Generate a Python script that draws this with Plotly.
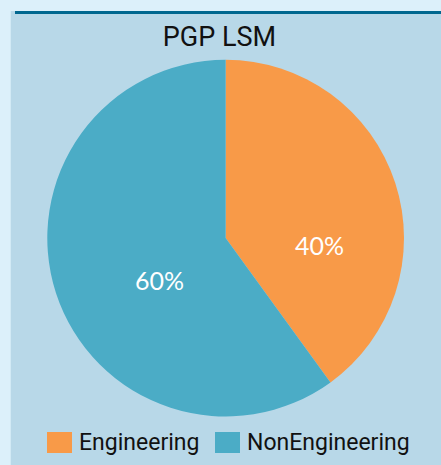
import plotly.graph_objects as go

categories = ["Engineering", "NonEngineering"]
values = [40, 60]
colors = ["#F89A48", "#4BACC6"]
title_text = "PGP LSM"

W, H = 441, 465
ML, MT = 15, 11
PW, PH = W - ML, H - MT

def px_x(x):
    return (x - ML) / PW

def px_y(y):
    return 1 - (y - MT) / PH

fig = go.Figure(go.Pie(
    labels=categories,
    values=values,
    marker=dict(colors=colors, line=dict(width=0)),
    sort=False,
    direction="clockwise",
    rotation=0,
    textinfo="none",
    domain=dict(x=[px_x(47.3), px_x(404)], y=[px_y(416.7), px_y(59.5)]),
    hoverinfo="skip",
    showlegend=False,
))

# percentage labels (text derived from the data)
total = sum(values)
label_pos = [(319, 245), (159, 280)]
annotations = []
for v, (lx, ly) in zip(values, label_pos):
    annotations.append(dict(
        text=f"{round(100 * v / total)}%", xref="paper", yref="paper",
        x=px_x(lx), y=px_y(ly), xanchor="center", yanchor="middle",
        showarrow=False,
        font=dict(family="Lato", size=25, color="white", weight=400),
    ))

# legend: swatch + label per category
legend_swatch_x = [47, 215]
shapes = [
    dict(type="rect", xref="paper", yref="paper", x0=-0.01, x1=1.01, y0=-0.01, y1=1,
         fillcolor="#B8D8E8", line=dict(width=0), layer="below"),
    dict(type="line", xref="paper", yref="paper", x0=0, x1=1.01,
         y0=1 - 1.5 / PH, y1=1 - 1.5 / PH,
         line=dict(color="#00678F", width=3), layer="below"),
]
for cat, col, sx in zip(categories, colors, legend_swatch_x):
    shapes.append(dict(type="rect", xref="paper", yref="paper",
                       x0=px_x(sx), x1=px_x(sx + 25), y0=px_y(453), y1=px_y(432),
                       fillcolor=col, line=dict(width=0)))
    annotations.append(dict(
        text=cat, xref="paper", yref="paper", x=px_x(sx + 30), y=px_y(442),
        xanchor="left", yanchor="middle", showarrow=False,
        font=dict(family="Roboto", size=23, color="#111111"),
    ))

fig.update_layout(
    width=W, height=H,
    margin=dict(l=ML, r=0, t=MT, b=0),
    paper_bgcolor="#DCF0FA",
    font=dict(family="Roboto", color="#111111"),
    title=dict(text=title_text, x=px_x(227), xanchor="center",
               y=1 - 36.5 / H, yanchor="middle",
               font=dict(family="Roboto", size=27, color="#111111")),
    showlegend=False,
    shapes=shapes,
    annotations=annotations,
)

fig.write_html(
    "out.html",
    config={"displayModeBar": False},
    post_script="document.body.style.margin='0';document.body.style.overflow='hidden';",
)
